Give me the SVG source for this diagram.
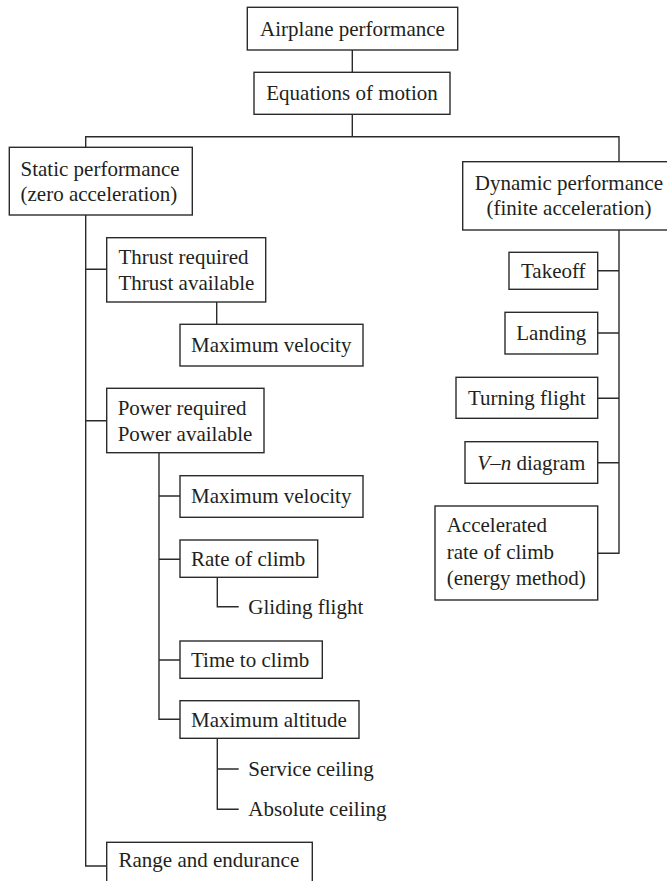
<svg xmlns="http://www.w3.org/2000/svg" width="667" height="881" viewBox="0 0 667 881">
<style>
rect{fill:#fff;stroke:#2b2b2b;stroke-width:1.4}
path{fill:none;stroke:#2b2b2b;stroke-width:1.4}
text{font-size:21px;fill:#231f20}
.c{text-anchor:middle}
.i{font-style:italic}
</style>
<rect x="0" y="0" width="667" height="881" style="stroke:none"/>
<g id="connectors">
<path d="M352.3 50V72.3M352.3 114.3V136.7"/>
<path d="M85.7 147.3V136.7H619V161.7"/>
<path d="M85.7 215V866H106.7M85.7 269.3H106.7M85.7 420.7H106.7"/>
<path d="M216.7 302V324.3"/>
<path d="M159 452.7V719.3H180M159 496H180M159 559.3H180M159 660H180"/>
<path d="M217.3 577.3V606.7H238.7"/>
<path d="M217.3 738.3V809.3H238.7M217.3 769H238.7"/>
<path d="M619 230V553.3H597.7M597.7 270.7H619M597.7 333H619M597.7 398.3H619M597.7 462.7H619"/>
</g>
<g font-family="Liberation Serif, DejaVu Serif, serif">
<g id="airplane"><rect x="247.3" y="7.3" width="210.4" height="42.7"/><text class="c" x="352.5" y="35.5">Airplane performance</text></g>
<g id="equations"><rect x="254" y="72.3" width="196" height="42"/><text class="c" x="352" y="100.3">Equations of motion</text></g>
<g id="static"><rect x="9.3" y="147.3" width="183" height="67.7"/><text x="20.5" y="175.8">Static performance</text><text x="20.5" y="200.5">(zero acceleration)</text></g>
<g id="dynamic"><rect x="462.7" y="161.7" width="214" height="68.3"/><text class="c" x="569" y="189.8">Dynamic performance</text><text class="c" x="569" y="215.3">(finite acceleration)</text></g>
<g id="thrust"><rect x="106.7" y="237.7" width="159" height="64.3"/><text x="118.5" y="264.3">Thrust required</text><text x="118.5" y="290">Thrust available</text></g>
<g id="maxvel1"><rect x="180" y="324.3" width="183" height="41.7"/><text x="191" y="352">Maximum velocity</text></g>
<g id="power"><rect x="106.7" y="388.3" width="157.3" height="64.4"/><text x="117.7" y="415">Power required</text><text x="117.7" y="440.5">Power available</text></g>
<g id="maxvel2"><rect x="180" y="475.7" width="183" height="41.6"/><text x="191" y="503.3">Maximum velocity</text></g>
<g id="rateofclimb"><rect x="180" y="540" width="137.7" height="37.3"/><text x="191" y="565.8">Rate of climb</text></g>
<g id="gliding"><text x="248.3" y="613.8">Gliding flight</text></g>
<g id="timetoclimb"><rect x="180" y="641" width="142.3" height="37.3"/><text x="191" y="666.8">Time to climb</text></g>
<g id="maxalt"><rect x="180" y="700.7" width="179" height="37.6"/><text x="191" y="726.5">Maximum altitude</text></g>
<g id="service"><text x="248.3" y="776">Service ceiling</text></g>
<g id="absolute"><text x="248.3" y="816.3">Absolute ceiling</text></g>
<g id="range"><rect x="106.7" y="842.3" width="205.6" height="48"/><text x="118.5" y="866.7">Range and endurance</text></g>
<g id="takeoff"><rect x="509" y="252.3" width="88.7" height="37"/><text class="c" x="553.3" y="277.8">Takeoff</text></g>
<g id="landing"><rect x="505" y="312.3" width="92.7" height="41.7"/><text class="c" x="551.3" y="340">Landing</text></g>
<g id="turning"><rect x="456" y="377.3" width="141.7" height="41"/><text class="c" x="526.8" y="404.8">Turning flight</text></g>
<g id="vn"><rect x="465" y="441.7" width="132.7" height="41.6"/><text class="c" x="531.3" y="469.5"><tspan class="i">V</tspan>–<tspan class="i">n</tspan> diagram</text></g>
<g id="accelerated"><rect x="435" y="506" width="162.7" height="94"/><text x="446.7" y="532">Accelerated</text><text x="446.7" y="558.5">rate of climb</text><text x="446.7" y="585">(energy method)</text></g>
</g>
</svg>
